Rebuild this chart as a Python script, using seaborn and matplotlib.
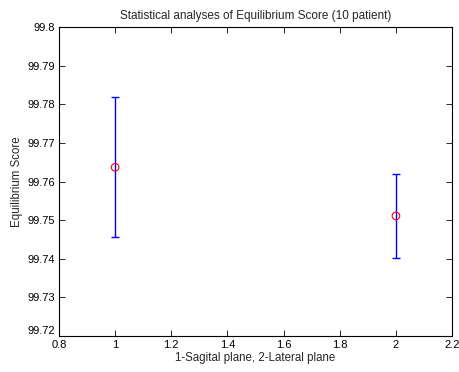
import matplotlib
matplotlib.use("Agg")
import matplotlib.pyplot as plt
import numpy as np
import pandas as pd
import seaborn as sns

# group index (1 = Sagital plane, 2 = Lateral plane)
groups = [1, 2]
means = [99.7637, 99.7511]
upper = [99.7820, 99.7619]
lower = [99.7456, 99.7401]

x_ticks = [0.8, 1.0, 1.2, 1.4, 1.6, 1.8, 2.0, 2.2]
x_ticklabels = ["0.8", "1", "1.2", "1.4", "1.6", "1.8", "2", "2.2"]
y_ticks = [99.72, 99.73, 99.74, 99.75, 99.76, 99.77, 99.78, 99.79, 99.8]
y_ticklabels = ["99.72", "99.73", "99.74", "99.75", "99.76", "99.77", "99.78", "99.79", "99.8"]

sns.set_style("ticks")
plt.rcParams["font.family"] = ["Liberation Sans", "DejaVu Sans"]
plt.rcParams["font.size"] = 8

df = pd.DataFrame({"group": groups, "mean": means, "upper": upper, "lower": lower})

fig = plt.figure(figsize=(4.59, 3.72), dpi=100)
ax = fig.add_axes([0.1285, 0.0968, 0.8565, 0.8302])

yerr = np.array([df["mean"] - df["lower"], df["upper"] - df["mean"]])
ax.errorbar(df["group"], df["mean"], yerr=yerr, fmt="none", ecolor="blue",
            elinewidth=1.0, capsize=3, capthick=1.0, zorder=2)
sns.scatterplot(data=df, x="group", y="mean", ax=ax, marker="o", s=30,
                facecolors="none", edgecolor="red", linewidth=0.8, zorder=3)

ax.set_xlim(0.8, 2.2)
ax.set_ylim(99.72, 99.8)
ax.set_xticks(x_ticks)
ax.set_xticklabels(x_ticklabels)
ax.set_yticks(y_ticks)
ax.set_yticklabels(y_ticklabels)
ax.tick_params(direction="in", top=True, right=True, length=4, width=0.6,
               labelsize=8, colors="black")
ax.tick_params(axis="x", pad=3)
ax.tick_params(axis="y", pad=3)
# lift the bottom y label a touch so it clears the first x label
ax.get_yticklabels()[0].set_va("bottom")
for sp in ax.spines.values():
    sp.set_visible(True)
    sp.set_linewidth(0.8)
    sp.set_color("black")

ax.set_title("Statistical analyses of Equilibrium Score (10 patient)", fontsize=8.5, pad=6)
ax.set_xlabel("1-Sagital plane, 2-Lateral plane", fontsize=8.3, labelpad=1)
ax.set_ylabel("Equilibrium Score", fontsize=8.3, labelpad=3)

fig.savefig("out.png", dpi=100)
plt.close(fig)
